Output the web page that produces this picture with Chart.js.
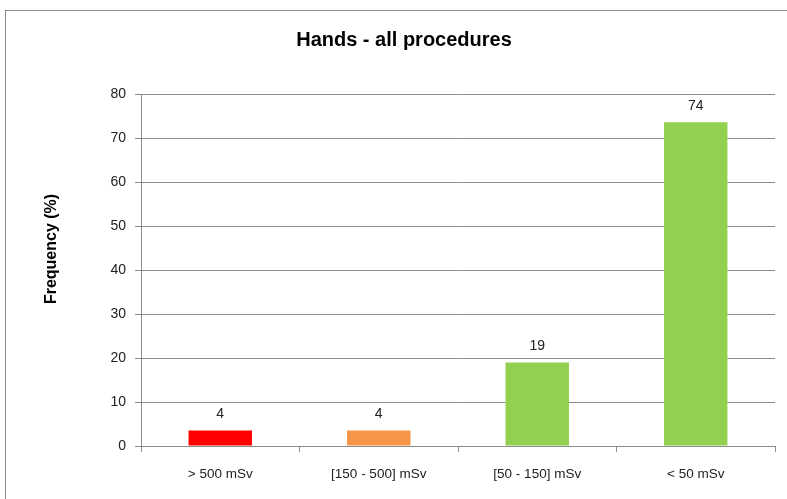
<!DOCTYPE html>
<html>
<head>
<meta charset="utf-8">
<script src="https://cdn.jsdelivr.net/npm/chart.js@4.4.0/dist/chart.umd.min.js"></script>
<style>
    html, body { margin: 0; padding: 0; background: #fff; overflow: hidden; width: 787px; height: 499px; }
    #frame {
        position: absolute; left: 5px; top: 10px; width: 900px; height: 600px;
        border-left: 1px solid #8c8c8c; border-top: 1px solid #8c8c8c;
    }
    #wrap { position: absolute; left: 0; top: 0; width: 809px; height: 499px; }
</style>
</head>
<body>
<div id="frame"></div>
<div id="wrap"><canvas id="chart" width="809" height="499"></canvas></div>
<script>
// Chart data
const categories = ['> 500 mSv', '[150 - 500] mSv', '[50 - 150] mSv', '< 50 mSv'];
const frequencies = [3.5, 3.5, 19, 73.6];
const barColors = ['#FF0000', '#F79646', '#92D050', '#92D050'];
const yTicks = [0, 10, 20, 30, 40, 50, 60, 70, 80];
const yTitle = 'Frequency (%)';

const FONT = "'Liberation Sans', Arial, sans-serif";

// Value labels above each bar + the y axis title (sits a bit above centre in the original)
const extras = {
    id: 'extras',
    afterDatasetsDraw(chart) {
        const ctx = chart.ctx;
        const meta = chart.getDatasetMeta(0);
        ctx.save();
        ctx.font = '14px ' + FONT;
        ctx.fillStyle = '#222';
        ctx.textAlign = 'center';
        ctx.textBaseline = 'bottom';
        meta.data.forEach((bar, i) => {
            ctx.fillText(Math.round(frequencies[i]).toString(), bar.x, bar.y - 9);
        });

        ctx.translate(52, 249);
        ctx.rotate(-Math.PI / 2);
        ctx.font = 'bold 16px ' + FONT;
        ctx.fillStyle = '#000';
        ctx.textBaseline = 'middle';
        ctx.fillText(yTitle, 0, 0);
        ctx.restore();
    }
};

new Chart(document.getElementById('chart').getContext('2d'), {
    type: 'bar',
    data: {
        labels: categories,
        datasets: [{
            data: frequencies,
            backgroundColor: barColors,
            borderWidth: 0,
            barPercentage: 0.4,
            categoryPercentage: 1.0
        }]
    },
    options: {
        responsive: false,
        animation: false,
        layout: { padding: { left: 33, right: 34, top: 0, bottom: 0 } },
        plugins: {
            legend: { display: false },
            tooltip: { enabled: false },
            title: {
                display: true,
                text: 'Hands - all procedures',
                color: '#000',
                font: { family: FONT, size: 20, weight: 'bold' },
                padding: { top: 28, bottom: 42 }
            }
        },
        scales: {
            x: {
                grid: {
                    display: true,
                    drawOnChartArea: false,
                    drawTicks: true,
                    tickLength: 6,
                    color: '#8c8c8c',
                    offset: true
                },
                border: { display: true, color: '#8c8c8c', width: 1 },
                ticks: {
                    color: '#222',
                    font: { family: FONT, size: 13.5 },
                    padding: 14,
                    maxRotation: 0
                },
                afterFit(scale) { scale.height = 53; }
            },
            y: {
                min: 0,
                max: 80,
                afterBuildTicks(scale) { scale.ticks = yTicks.map(v => ({ value: v })); },
                grid: {
                    color: '#8c8c8c',
                    drawTicks: true,
                    tickLength: 6
                },
                border: { display: true, color: '#8c8c8c', width: 1 },
                ticks: {
                    color: '#222',
                    font: { family: FONT, size: 14 },
                    padding: 9
                },
                afterFit(scale) { scale.width = 108; }
            }
        }
    },
    plugins: [extras]
});
</script>
</body>
</html>
